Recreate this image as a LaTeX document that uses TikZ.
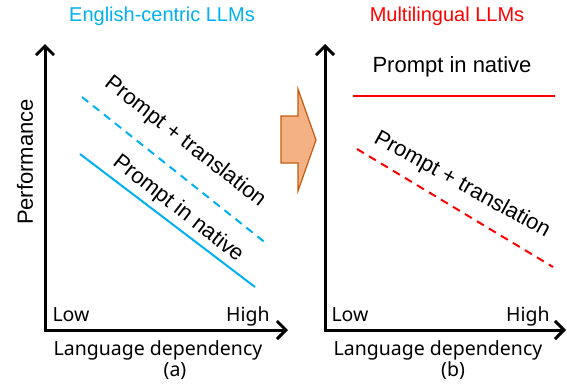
\documentclass[tikz,border=0pt]{standalone}
\usepackage{fontspec}
\setmainfont{Liberation Sans}
\newfontfamily\axisfont{Noto Sans}
\usetikzlibrary{arrows.meta}
\definecolor{cyanline}{HTML}{00B0F0}
\definecolor{redline}{HTML}{FF0000}
\definecolor{arrfill}{HTML}{F4B183}
\definecolor{arrdraw}{HTML}{C55A11}
\begin{document}
\begin{tikzpicture}[x=1pt,y=-1pt,
  axis/.style={line width=3pt,-{Straight Barb[length=9pt,width=18pt,line width=3pt]}},
  curve/.style={line width=2pt},
  dashcurve/.style={line width=2pt,dash pattern=on 8pt off 6pt},
  lbl/.style={font=\fontsize{22}{24}\selectfont,inner sep=0pt},
  ttl/.style={font=\fontsize{20}{22}\selectfont,inner sep=0pt},
  axlbl/.style={font=\axisfont\fontsize{19.5}{21}\selectfont,inner sep=0pt,anchor=base}]
\useasboundingbox (0,0) rectangle (567,383);
% titles
\node[ttl,text=cyanline] (t1) at (162,16) {English-centric LLMs};
\node[ttl,text=redline] (t2) at (447,16) {Multilingual LLMs};
% left axes
\coordinate (o1) at (45,330);
\coordinate (y1) at (45,44);
\coordinate (x1) at (288,330);
\draw[axis] (o1) -- (y1);
\draw[axis] ([xshift=-1.5pt]o1) -- (x1);
% right axes
\coordinate (o2) at (325,330);
\coordinate (y2) at (325,44);
\coordinate (x2) at (566,330);
\draw[axis] (o2) -- (y2);
\draw[axis] ([xshift=-1.5pt]o2) -- (x2);
% left lines
\coordinate (d1s) at (82,97);
\coordinate (d1e) at (267,244);
\coordinate (s1s) at (80,154);
\coordinate (s1e) at (255,287);
\draw[dashcurve,cyanline] (d1s) -- (d1e);
\draw[curve,cyanline] (s1s) -- (s1e);
\node[lbl,rotate=-38] (pt1) at (185,142) {Prompt + translation};
\node[lbl,rotate=-38] (pn1) at (178,209) {Prompt in native};
% right lines
\coordinate (s2s) at (353,96);
\coordinate (s2e) at (555,96);
\coordinate (d2s) at (357,149);
\coordinate (d2e) at (553,267);
\draw[curve,redline] (s2s) -- (s2e);
\draw[dashcurve,redline] (d2s) -- (d2e);
\node[lbl] (pn2) at (452,67) {Prompt in native};
\node[lbl,rotate=-29] (pt2) at (462,185) {Prompt + translation};
% axis labels
\node[lbl,rotate=90] (perf) at (25,162) {Performance};
\node[axlbl] (low1) at (71,321) {Low};
\node[axlbl] (high1) at (248,321) {High};
\node[axlbl] (ld1) at (158,355) {Language dependency};
\node[axlbl] (a) at (175,376) {(a)};
\node[axlbl] (low2) at (350,321) {Low};
\node[axlbl] (high2) at (528,321) {High};
\node[axlbl] (ld2) at (438,355) {Language dependency};
\node[axlbl] (b) at (453,376) {(b)};
% block arrow
\draw[fill=arrfill,draw=arrdraw,line width=1.2pt,line join=miter]
  (281,116) -- (298,116) -- (298,89) -- (316,140) -- (298,191) -- (298,163) -- (281,163) -- cycle;
\end{tikzpicture}
\end{document}
